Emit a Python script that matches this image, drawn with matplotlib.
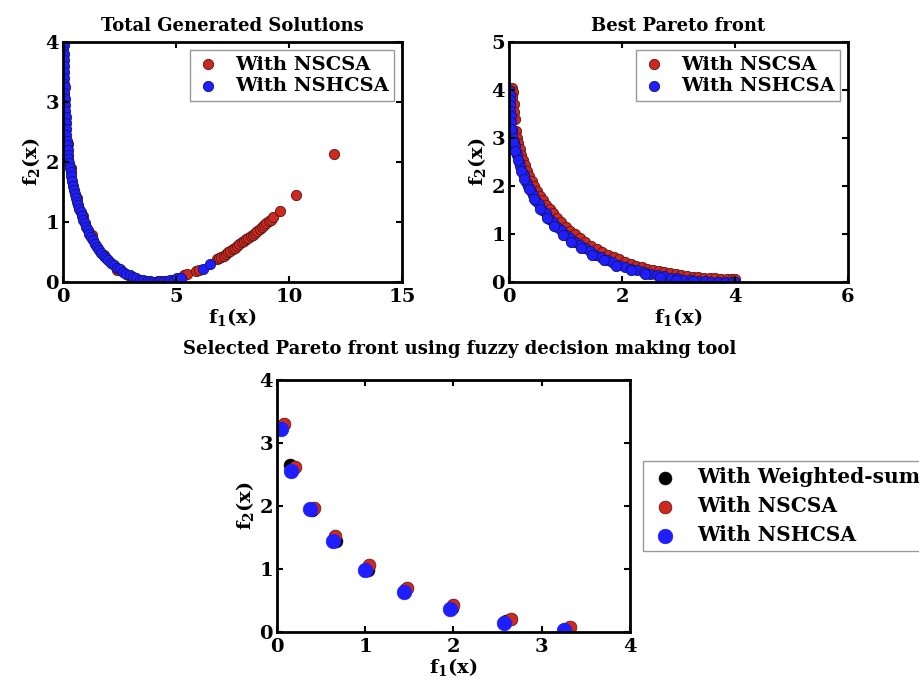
import matplotlib
matplotlib.use('Agg')
import matplotlib.pyplot as plt

plt.rcParams['font.family'] = 'DejaVu Serif'
plt.rcParams['font.weight'] = 'bold'
plt.rcParams['mathtext.fontset'] = 'dejavuserif'

# Total generated solutions (top left)
tg_nscsa_x = [0.02, 0.05, 0.1, 0.2, 0.35, 0.6, 0.9, 1.3, 1.8, 2.4, 3.0, 3.6, 4.2, 4.8,
              5.35, 5.5, 5.9, 6.0, 6.8, 6.9, 7.0, 7.1, 7.2, 7.3, 7.4, 7.5, 7.6, 7.7, 7.8,
              7.9, 8.0, 8.1, 8.2, 8.3, 8.4, 8.5, 8.6, 8.7, 8.8, 8.9, 9.0, 9.1, 9.2, 9.3,
              9.6, 10.3, 12.0]
tg_nscsa_y = [3.5, 3.1, 2.7, 2.3, 1.9, 1.4, 1.1, 0.78, 0.45, 0.2, 0.07, 0.01, 0.01, 0.04,
              0.12, 0.13, 0.18, 0.2, 0.38, 0.4, 0.42, 0.44, 0.46, 0.5, 0.52, 0.55, 0.57, 0.6, 0.63,
              0.66, 0.68, 0.71, 0.74, 0.76, 0.79, 0.82, 0.85, 0.88, 0.91, 0.95, 0.98, 1.01, 1.04, 1.08,
              1.18, 1.45, 2.14]
tg_nshcsa_x = [0.02, 0.03, 0.02, 0.04, 0.03, 0.05, 0.04, 0.06, 0.05, 0.07, 0.06, 0.08, 0.09, 0.1,
               0.11, 0.12, 0.14, 0.15, 0.17, 0.18, 0.2, 0.22, 0.24, 0.27, 0.3, 0.33, 0.36, 0.4,
               0.44, 0.48, 0.52, 0.57, 0.62, 0.67, 0.72, 0.78, 0.84, 0.9, 0.96, 1.03, 1.1,
               1.17, 1.25, 1.33, 1.42, 1.5, 1.6, 1.7, 1.8, 1.9, 2.0, 2.12, 2.25, 2.38, 2.5,
               2.65, 2.8, 2.95, 3.1, 3.25, 3.4, 3.55, 3.7, 3.85, 4.0, 4.15, 4.3, 4.45, 4.6,
               4.75, 4.9, 5.05, 5.2, 6.2, 6.5]
tg_nshcsa_y = [4.0, 3.95, 3.85, 3.8, 3.7, 3.6, 3.5, 3.4, 3.3, 3.25, 3.15, 3.05, 2.95, 2.85,
               2.75, 2.65, 2.55, 2.45, 2.35, 2.28, 2.2, 2.12, 2.05, 1.98, 1.9, 1.83, 1.76, 1.68,
               1.6, 1.53, 1.47, 1.4, 1.34, 1.28, 1.22, 1.16, 1.1, 1.04, 0.98, 0.92, 0.86,
               0.8, 0.75, 0.7, 0.64, 0.59, 0.54, 0.49, 0.44, 0.4, 0.36, 0.32, 0.28, 0.24, 0.21,
               0.17, 0.14, 0.11, 0.09, 0.06, 0.04, 0.03, 0.02, 0.01, 0.0, 0.0, 0.01, 0.01, 0.02,
               0.03, 0.04, 0.06, 0.07, 0.22, 0.3]

# Best Pareto front (top right)
bp_nscsa_x = [0.05, 0.07, 0.06, 0.08, 0.09, 0.1, 0.12, 0.14, 0.16, 0.19, 0.22, 0.25, 0.28, 0.32,
              0.36, 0.4, 0.45, 0.5, 0.55, 0.6, 0.66, 0.72, 0.78, 0.85, 0.92, 1.0, 1.08, 1.16,
              1.25, 1.35, 1.45, 1.55, 1.65, 1.75, 1.85, 1.95, 2.05, 2.15, 2.25, 2.35, 2.45,
              2.55, 2.65, 2.75, 2.85, 2.95, 3.05, 3.15, 3.25, 3.35, 3.45, 3.55, 3.65, 3.75,
              3.85, 3.95, 4.0]
bp_nscsa_y = [4.05, 3.95, 3.85, 3.7, 3.55, 3.4, 3.15, 3.0, 2.9, 2.77, 2.65, 2.54, 2.44, 2.32,
              2.21, 2.11, 2.0, 1.89, 1.8, 1.71, 1.61, 1.52, 1.43, 1.34, 1.25, 1.15, 1.07, 0.99,
              0.91, 0.83, 0.76, 0.69, 0.63, 0.57, 0.52, 0.47, 0.42, 0.38, 0.34, 0.31, 0.28,
              0.25, 0.22, 0.2, 0.18, 0.16, 0.14, 0.12, 0.11, 0.1, 0.09, 0.08, 0.08, 0.07,
              0.07, 0.06, 0.06]
bp_nshcsa_x = [0.0, 0.01, 0.02, 0.01, 0.02, 0.03, 0.03, 0.05, 0.06, 0.08, 0.1, 0.12, 0.14, 0.17,
               0.2, 0.23, 0.26, 0.3, 0.34, 0.38, 0.43, 0.48, 0.53, 0.59, 0.65, 0.71, 0.78, 0.85,
               0.92, 1.0, 1.08, 1.16, 1.25, 1.34, 1.43, 1.53, 1.63, 1.73, 1.83, 1.94, 2.05,
               2.16, 2.27, 2.38, 2.5, 2.62, 2.74, 2.86, 2.98, 3.1, 3.22, 3.34, 3.46, 3.58,
               3.7, 3.82, 3.94, 4.0,
               0.04, 0.07, 0.11, 0.15, 0.21, 0.27, 0.35, 0.44, 0.55, 0.67, 0.8, 0.95,
               1.1, 1.28, 1.47, 1.68, 1.9, 2.15, 2.4, 2.68, 2.95, 3.25]
bp_nshcsa_y = [4.0, 3.9, 3.8, 3.68, 3.57, 3.45, 3.34, 3.16, 3.05, 2.92, 2.84, 2.71, 2.64, 2.5,
               2.41, 2.29, 2.22, 2.09, 2.01, 1.89, 1.81, 1.69, 1.62, 1.5, 1.43, 1.32, 1.25, 1.14,
               1.08, 0.98, 0.92, 0.84, 0.78, 0.7, 0.65, 0.57, 0.52, 0.46, 0.42, 0.36, 0.32,
               0.27, 0.24, 0.2, 0.17, 0.14, 0.12, 0.09, 0.08, 0.05, 0.04, 0.02, 0.02, 0.01,
               0.005, 0.0, 0.0, 0.0,
               3.18, 2.92, 2.72, 2.54, 2.32, 2.14, 1.93, 1.73, 1.52, 1.34, 1.16, 0.98,
               0.84, 0.7, 0.57, 0.45, 0.34, 0.24, 0.16, 0.1, 0.05, 0.02]

# Selected Pareto front (bottom)
sel_ws_x = [0.05, 0.15, 0.4, 0.67, 1.03, 1.45, 1.98, 2.6, 3.28]
sel_ws_y = [3.25, 2.65, 1.93, 1.45, 0.98, 0.67, 0.38, 0.17, 0.05]
sel_nscsa_x = [0.08, 0.2, 0.42, 0.66, 1.04, 1.47, 1.99, 2.65, 3.32]
sel_nscsa_y = [3.3, 2.62, 1.97, 1.53, 1.06, 0.7, 0.43, 0.2, 0.08]
sel_nshcsa_x = [0.04, 0.16, 0.37, 0.64, 1.0, 1.44, 1.96, 2.57, 3.25]
sel_nshcsa_y = [3.23, 2.56, 1.95, 1.44, 0.99, 0.64, 0.36, 0.15, 0.03]

red = '#cc2a1f'
red_edge = '#5a1414'
blue = '#1e1eff'
blue_edge = '#14146a'

fig = plt.figure(figsize=(9.19, 6.86), dpi=100)


def style(ax, xlim, ylim, xticks, yticks):
    ax.set_xlim(xlim)
    ax.set_ylim(ylim)
    ax.set_xticks(xticks)
    ax.set_yticks(yticks)
    ax.tick_params(direction='in', top=True, right=True, labelsize=14, width=1.5, length=4)
    ax.tick_params(axis='x', pad=4)
    ax.tick_params(axis='y', pad=3)
    for s in ax.spines.values():
        s.set_linewidth(2)
    ax.set_xlabel('f$_\\mathbf{1}$(x)', fontsize=14, fontweight='bold', labelpad=0)
    ax.set_ylabel('f$_\\mathbf{2}$(x)', fontsize=14, fontweight='bold', labelpad=2)


leg_kw = dict(fontsize=14, fancybox=False, edgecolor='gray', handletextpad=0.7,
              labelspacing=0.2, borderpad=0.3, handlelength=1.3)

ax1 = fig.add_axes([0.0686, 0.5889, 0.3689, 0.3499])
ax1.scatter(tg_nscsa_x, tg_nscsa_y, s=55, c=red, edgecolors=red_edge, linewidths=0.6, label='With NSCSA')
ax1.scatter(tg_nshcsa_x, tg_nshcsa_y, s=55, c=blue, edgecolors=blue_edge, linewidths=0.6, label='With NSHCSA')
style(ax1, (0, 15), (0, 4), [0, 5, 10, 15], [0, 1, 2, 3, 4])
ax1.set_title('Total Generated Solutions', fontsize=13, fontweight='bold', pad=8)
ax1.legend(loc='upper right', borderaxespad=0.4, **leg_kw)

ax2 = fig.add_axes([0.5539, 0.5889, 0.3689, 0.3499])
ax2.scatter(bp_nscsa_x, bp_nscsa_y, s=55, c=red, edgecolors=red_edge, linewidths=0.6, label='With NSCSA')
ax2.scatter(bp_nshcsa_x, bp_nshcsa_y, s=55, c=blue, edgecolors=blue_edge, linewidths=0.6, label='With NSHCSA')
style(ax2, (0, 6), (0, 5), [0, 2, 4, 6], [0, 1, 2, 3, 4, 5])
ax2.set_title('Best Pareto front', fontsize=13, fontweight='bold', pad=8)
ax2.legend(loc='upper right', borderaxespad=0.4, **leg_kw)

ax3 = fig.add_axes([0.3014, 0.0787, 0.3841, 0.3673])
ax3.scatter(sel_ws_x, sel_ws_y, s=85, c='black', edgecolors='black', linewidths=0.5, label='With Weighted-sum')
ax3.scatter(sel_nscsa_x, sel_nscsa_y, s=85, c=red, edgecolors=red_edge, linewidths=0.5, label='With NSCSA')
ax3.scatter(sel_nshcsa_x, sel_nshcsa_y, s=110, c=blue, edgecolors=blue, linewidths=0.5, label='With NSHCSA')
style(ax3, (0, 4), (0, 4), [0, 1, 2, 3, 4], [0, 1, 2, 3, 4])
fig.text(0.5, 0.478, 'Selected Pareto front using fuzzy decision making tool', ha='center', va='bottom',
         fontsize=13, fontweight='bold')
leg3 = dict(leg_kw, fontsize=14.5, labelspacing=0.45, handletextpad=0.8, handlelength=1.6)
ax3.legend(loc='center left', bbox_to_anchor=(1.037, 0.5), borderaxespad=0, **leg3)

fig.savefig('out.png', dpi=100)
